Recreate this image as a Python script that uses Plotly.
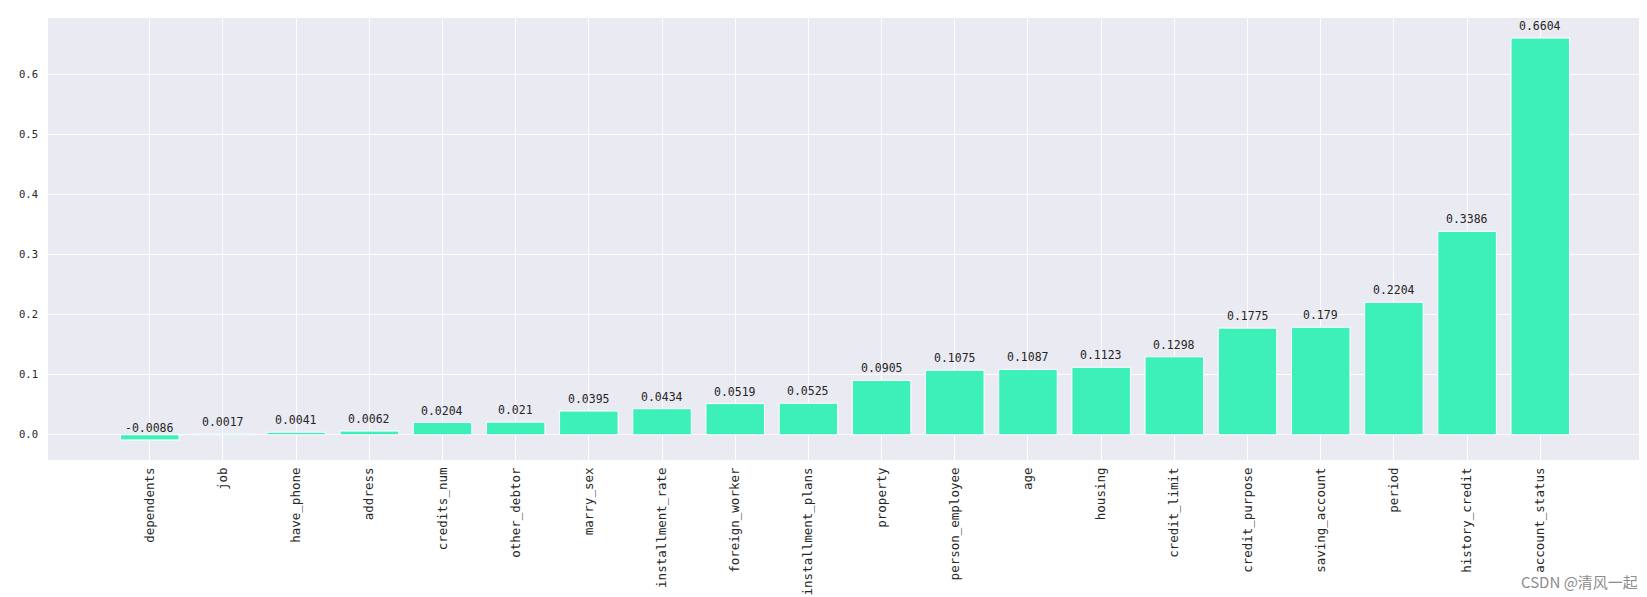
import plotly.graph_objects as go

features = ["dependents", "job", "have_phone", "address", "credits_num", "other_debtor",
            "marry_sex", "installment_rate", "foreign_worker", "installment_plans", "property",
            "person_employee", "age", "housing", "credit_limit", "credit_purpose",
            "saving_account", "period", "history_credit", "account_status"]
importance = [-0.0086, 0.0017, 0.0041, 0.0062, 0.0204, 0.021, 0.0395, 0.0434, 0.0519, 0.0525,
              0.0905, 0.1075, 0.1087, 0.1123, 0.1298, 0.1775, 0.179, 0.2204, 0.3386, 0.6604]
label_offset = 0.01
y_ticks = [0.0, 0.1, 0.2, 0.3, 0.4, 0.5, 0.6]

BAR = "#3DF0B8"
BG = "#EAEAF2"
MONO = "DejaVu Sans Mono, Liberation Mono, monospace"

fig = go.Figure()
fig.add_trace(go.Bar(
    x=list(range(len(features))), y=importance,
    marker=dict(color=BAR, line=dict(color="white", width=1)),
    width=0.8, showlegend=False, hoverinfo="skip",
))

for i, v in enumerate(importance):
    fig.add_annotation(x=i, y=v + label_offset, text=str(v), showarrow=False,
                       xanchor="center", yanchor="bottom", yshift=-3,
                       font=dict(family=MONO, size=11.5, color="#262626"))

fig.add_annotation(xref="paper", yref="paper", x=0.999, y=-0.275, text="CSDN @清风一起",
                   showarrow=False, xanchor="right", yanchor="middle",
                   font=dict(family="Noto Sans CJK SC", size=15, color="#8c8c8c"))

fig.update_layout(
    width=1647, height=597,
    margin=dict(l=40, r=13, t=10, b=145, autoexpand=False),
    paper_bgcolor="white", plot_bgcolor=BG,
    bargap=0.2,
    xaxis=dict(range=[-1.39, 20.39], tickmode="array", tickvals=list(range(len(features))),
               ticktext=features, tickangle=-90, showgrid=True, gridcolor="white", gridwidth=1,
               zeroline=False, showline=False, ticks="", automargin=False,
               ticklabelstandoff=4,
               tickfont=dict(family=MONO, size=12.5, color="#262626")),
    yaxis=dict(range=[-0.042, 0.6938], tickmode="array", tickvals=y_ticks,
               ticktext=[f"{t:.1f}" for t in y_ticks], showgrid=True, gridcolor="white",
               gridwidth=1, zeroline=False, showline=False, ticks="", automargin=False,
               ticklabelstandoff=9,
               tickfont=dict(family=MONO, size=10.5, color="#262626")),
)

fig.write_html("out.html")
